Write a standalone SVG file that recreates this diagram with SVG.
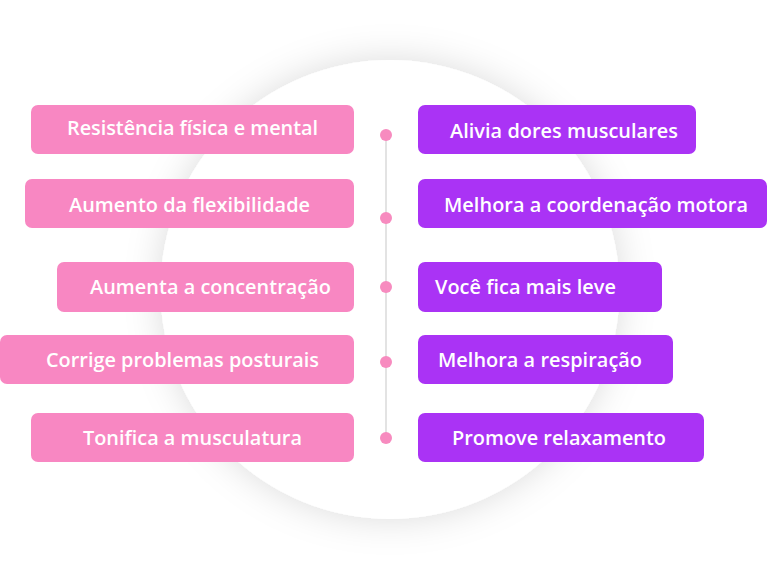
<svg xmlns="http://www.w3.org/2000/svg" width="768" height="580" viewBox="0 0 768 580">
<style>
.l rect{fill:#f887c2}
.r rect{fill:#aa33f5}
text{font-family:"Open Sans","Noto Sans","Liberation Sans",sans-serif;font-weight:600;font-size:19.9px;fill:#fff}
.dot{fill:#f78bbf}
</style>
<defs>
<filter id="sh" x="-30%" y="-30%" width="160%" height="160%">
<feDropShadow dx="0" dy="0" stdDeviation="18" flood-color="#000" flood-opacity="0.14"/>
</filter>
</defs>
<rect width="768" height="580" fill="#fff"/>
<circle cx="390" cy="289.5" r="229.5" fill="#fff" filter="url(#sh)"/>
<g id="connectors">
<line x1="386" y1="135" x2="386" y2="438" stroke="#d0d0d0" stroke-width="1.2"/>
<circle class="dot" cx="386" cy="135" r="6"/>
<circle class="dot" cx="386" cy="218" r="6"/>
<circle class="dot" cx="386" cy="287" r="6"/>
<circle class="dot" cx="386" cy="362" r="6"/>
<circle class="dot" cx="386" cy="438" r="6"/>
</g>
<g id="l1" class="l"><rect x="31" y="105" width="323" height="49" rx="7"/><text x="67" y="135" textLength="251">Resistência física e mental</text></g>
<g id="l2" class="l"><rect x="25" y="179" width="329" height="49" rx="7"/><text x="69" y="211.5" textLength="241">Aumento da flexibilidade</text></g>
<g id="l3" class="l"><rect x="57" y="262" width="297" height="50" rx="7"/><text x="90" y="294" textLength="241">Aumenta a concentração</text></g>
<g id="l4" class="l"><rect x="0" y="335" width="354" height="49" rx="7"/><text x="46" y="367" textLength="273">Corrige problemas posturais</text></g>
<g id="l5" class="l"><rect x="31" y="413" width="323" height="49" rx="7"/><text x="83" y="445" textLength="219">Tonifica a musculatura</text></g>
<g id="r1" class="r"><rect x="418" y="105" width="278" height="49" rx="7"/><text x="450" y="137.5" textLength="228">Alivia dores musculares</text></g>
<g id="r2" class="r"><rect x="418" y="179" width="349" height="49" rx="7"/><text x="444" y="211.5" textLength="304">Melhora a coordenação motora</text></g>
<g id="r3" class="r"><rect x="418" y="262" width="244" height="50" rx="7"/><text x="435" y="294" textLength="181">Você fica mais leve</text></g>
<g id="r4" class="r"><rect x="418" y="335" width="255" height="49" rx="7"/><text x="438" y="367" textLength="204">Melhora a respiração</text></g>
<g id="r5" class="r"><rect x="418" y="413" width="286" height="49" rx="7"/><text x="452" y="445" textLength="214">Promove relaxamento</text></g>
</svg>
